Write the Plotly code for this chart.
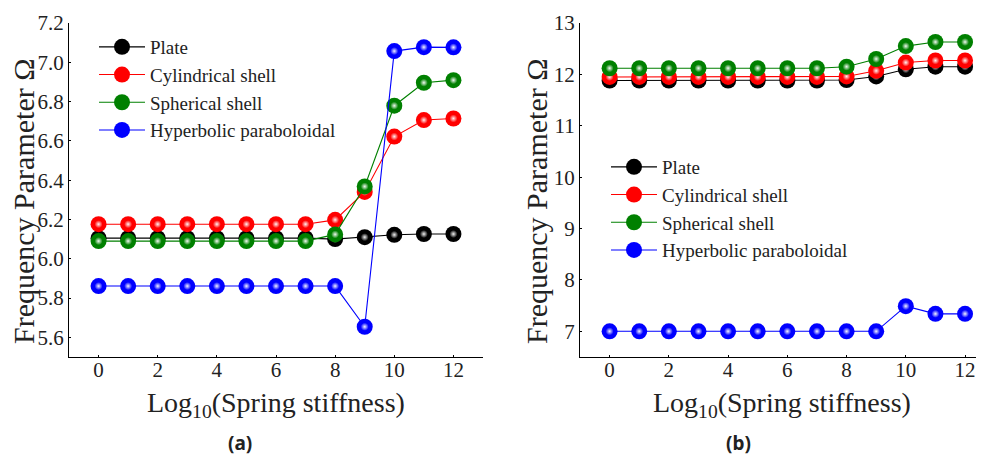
import plotly.graph_objects as go

x_vals = list(range(13))
series_names = ["Plate", "Cylindrical shell", "Spherical shell", "Hyperbolic paraboloidal"]
colors = ["#000000", "#FF0000", "#008000", "#0000FF"]

# Panel (a)
a_plate = [6.105, 6.105, 6.105, 6.105, 6.105, 6.105, 6.105, 6.105, 6.100, 6.110, 6.122, 6.126, 6.126]
a_cyl = [6.176, 6.176, 6.176, 6.176, 6.176, 6.176, 6.176, 6.176, 6.198, 6.340, 6.622, 6.706, 6.714]
a_sph = [6.090, 6.090, 6.090, 6.090, 6.090, 6.090, 6.090, 6.090, 6.124, 6.368, 6.779, 6.896, 6.909]
a_hyp = [5.861, 5.861, 5.861, 5.861, 5.861, 5.861, 5.861, 5.861, 5.861, 5.654, 7.057, 7.077, 7.076]

# Panel (b)
b_plate = [11.88, 11.88, 11.88, 11.88, 11.88, 11.88, 11.88, 11.88, 11.89, 11.96, 12.10, 12.15, 12.15]
b_cyl = [11.95, 11.95, 11.95, 11.95, 11.95, 11.95, 11.95, 11.95, 11.96, 12.07, 12.23, 12.27, 12.27]
b_sph = [12.12, 12.12, 12.12, 12.12, 12.12, 12.12, 12.12, 12.12, 12.15, 12.30, 12.55, 12.63, 12.63]
b_hyp = [7.00, 7.00, 7.00, 7.00, 7.00, 7.00, 7.00, 7.00, 7.00, 7.00, 7.49, 7.34, 7.34]

a_yticks = [5.6, 5.8, 6.0, 6.2, 6.4, 6.6, 6.8, 7.0, 7.2]
b_yticks = [7, 8, 9, 10, 11, 12, 13]
x_ticks = [0, 2, 4, 6, 8, 10, 12]

FONT = "Liberation Serif"
W, H = 984, 457
OFF = 8  # page body margin


def px(xs):
    return (xs - OFF) / W


def py(ys):
    return 1 - (ys - OFF) / H


fig = go.Figure()


def add_series(xa, ya, data, legend):
    for name, col, ys in zip(series_names, colors, data):
        fig.add_trace(go.Scatter(
            x=x_vals, y=ys, name=name, mode="lines+markers",
            xaxis=xa, yaxis=ya, legend=legend,
            line=dict(color=col, width=1.1),
            marker=dict(size=16, color=col, line=dict(width=0)),
        ))
        fig.add_trace(go.Scatter(
            x=x_vals, y=ys, mode="markers", showlegend=False, hoverinfo="skip",
            xaxis=xa, yaxis=ya,
            marker=dict(size=8, color="rgba(255,255,255,0)", line=dict(width=0),
                        gradient=dict(type="radial", color="rgba(255,255,255,0.95)")),
        ))


add_series("x", "y", [a_plate, a_cyl, a_sph, a_hyp], "legend")
add_series("x2", "y2", [b_plate, b_cyl, b_sph, b_hyp], "legend2")

ydom = [py(357), py(23)]

axis_common = dict(showline=True, linecolor="black", linewidth=1.2, ticks="inside",
                   ticklen=2, tickwidth=1, tickcolor="black", showgrid=False, zeroline=False,
                   automargin=False, mirror=False)
xtickfont = dict(family=FONT, size=21, color="#222")
ytickfont = dict(family=FONT, size=21, color="#222")

legend_common = dict(xanchor="left", yanchor="top", bgcolor="rgba(0,0,0,0)",
                     font=dict(family=FONT, size=19, color="#222"), tracegroupgap=0,
                     itemwidth=46)

fig.update_layout(
    width=W, height=H, margin=dict(l=0, r=0, t=0, b=0, autoexpand=False),
    plot_bgcolor="white", paper_bgcolor="white",
    font=dict(family=FONT, color="#222"),
    xaxis=dict(domain=[px(69), px(483)], range=[-1, 13], tickvals=x_ticks, anchor="y",
               tickfont=xtickfont, ticklabelstandoff=-6, **axis_common),
    yaxis=dict(domain=ydom, range=[5.5, 7.2], tickvals=a_yticks, ticktext=[f"{v:.1f}" for v in a_yticks],
               anchor="x", tickfont=ytickfont, **axis_common),
    xaxis2=dict(domain=[px(580), px(984)], range=[-1, 12.64], tickvals=x_ticks, anchor="y2",
                tickfont=xtickfont, ticklabelstandoff=-6, **axis_common),
    yaxis2=dict(domain=ydom, range=[6.5, 13], tickvals=b_yticks, anchor="x2", tickfont=ytickfont,
                **axis_common),
    legend=dict(x=px(94), y=py(28), **legend_common),
    legend2=dict(x=px(606), y=py(148), **legend_common),
    showlegend=True,
)

ann = []
for cx in [23, 536]:
    ann.append(dict(text="Frequency Parameter Ω", x=px(cx), y=py(201), xref="paper", yref="paper",
                    textangle=-90, showarrow=False, font=dict(family=FONT, size=30, color="#222"),
                    xanchor="center", yanchor="middle"))
for cx in [276, 782]:
    ann.append(dict(text="Log<sub>10</sub>(Spring stiffness)", x=px(cx), y=py(404), xref="paper",
                    yref="paper", showarrow=False, font=dict(family=FONT, size=28, color="#222"),
                    xanchor="center", yanchor="middle"))
for cx, lab in [(240, "(a)"), (738, "(b)")]:
    ann.append(dict(text=f"<b>{lab}</b>", x=px(cx), y=py(443), xref="paper", yref="paper",
                    showarrow=False, font=dict(family="Noto Sans", size=19, color="#222"),
                    xanchor="center", yanchor="middle"))
fig.update_layout(annotations=ann)

fig.write_html("out.html")
